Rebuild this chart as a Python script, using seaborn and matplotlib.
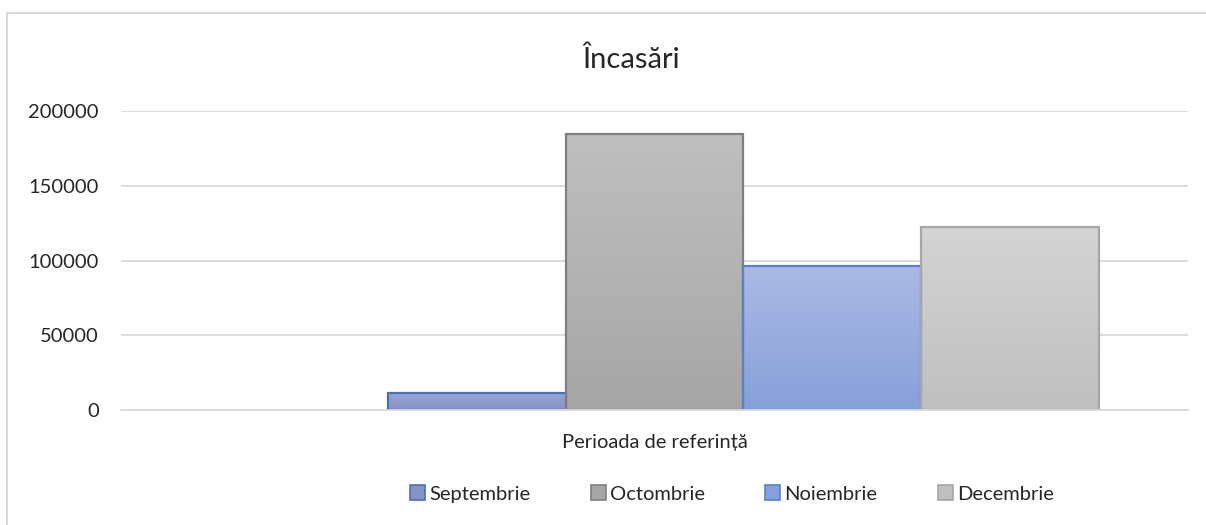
import numpy as np
import pandas as pd
import matplotlib
matplotlib.use("Agg")
import matplotlib.pyplot as plt
from matplotlib.patches import Patch, Rectangle
from matplotlib.colors import LinearSegmentedColormap
import seaborn as sns

# Data
months = ["Septembrie", "Octombrie", "Noiembrie", "Decembrie"]
values = [11500, 184500, 96000, 122500]
category_label = "Perioada de referință"
title = "Încasări"
y_ticks = [0, 50000, 100000, 150000, 200000]

# Excel-like gradient fills: (top, bottom, edge)
fills = {
    "Septembrie": ("#9ca8d5", "#8493c6", "#4a6fb8"),
    "Octombrie": ("#bfbfbf", "#a6a6a6", "#7f7f7f"),
    "Noiembrie": ("#abb9e4", "#87a0d9", "#5a80cc"),
    "Decembrie": ("#d4d4d4", "#bfbfbf", "#a6a6a6"),
}

df = pd.DataFrame({"Luna": months, "Valoare": values})

sns.set_theme(style="white")
plt.rcParams["font.family"] = ["Lato", "DejaVu Sans"]

fig = plt.figure(figsize=(12.06, 5.25), dpi=100)
ax = fig.add_axes([121 / 1206, 1 - 410 / 525, (1188 - 121) / 1206, (410 - 111) / 525])

mid = {m: fills[m][1] for m in months}
sns.barplot(data=df, x="Luna", y="Valoare", hue="Luna", order=months,
            palette=mid, width=1.0, legend=False, ax=ax, zorder=3)

# replace flat fills by vertical gradients clipped to each bar
for patch, m in zip(ax.patches, months):
    top, bottom, edge = fills[m]
    x0, y0 = patch.get_x(), patch.get_y()
    w, h = patch.get_width(), patch.get_height()
    cmap = LinearSegmentedColormap.from_list(m, [bottom, top])
    grad = np.linspace(0, 1, 256).reshape(-1, 1)
    im = ax.imshow(grad, cmap=cmap, aspect="auto", origin="lower",
                   extent=[x0, x0 + w, y0, y0 + h], zorder=3)
    im.set_clip_path(patch)
    patch.set_facecolor("none")
    patch.set_edgecolor(edge)
    patch.set_linewidth(1.6)
    patch.set_zorder(4)

ax.set_xlim(-2, 4)
ax.set_ylim(0, 200000)
ax.set_yticks(y_ticks)
ax.set_yticklabels([str(v) for v in y_ticks])
ax.set_xticks([1])
ax.set_xticklabels([category_label])
ax.set_xlabel("")
ax.set_ylabel("")
ax.grid(axis="y", color="#d9d9d9", linewidth=1.3, zorder=0)
ax.set_axisbelow(True)
for s in ["top", "right", "left"]:
    ax.spines[s].set_visible(False)
ax.spines["bottom"].set_color("#d9d9d9")
ax.spines["bottom"].set_linewidth(1.3)
ax.spines["bottom"].set_zorder(5)
ax.tick_params(axis="y", length=0, pad=16, labelsize=14.5, labelcolor="#262626")
ax.tick_params(axis="x", length=0, pad=17, labelsize=14.5, labelcolor="#262626")

fig.text(631 / 1206, 1 - 60 / 525, title, ha="center", va="center",
         fontsize=21, color="#262626")

handles = [Patch(facecolor=fills[m][1], edgecolor=fills[m][2], linewidth=1.2, label=m)
           for m in months]
fig.legend(handles=handles, loc="center", bbox_to_anchor=(732 / 1206, 1 - 494 / 525),
           ncol=4, frameon=False, fontsize=14.5, handlelength=0.75, handleheight=0.75,
           handletextpad=0.2, columnspacing=3.0, labelcolor="#262626")

# chart area border
fig.patches.append(Rectangle((7 / 1206, -0.05), 1.2, 1 - 13 / 525 + 0.05,
                             transform=fig.transFigure, fill=False,
                             edgecolor="#d9d9d9", linewidth=1.5))

fig.savefig("out.png", dpi=100)
